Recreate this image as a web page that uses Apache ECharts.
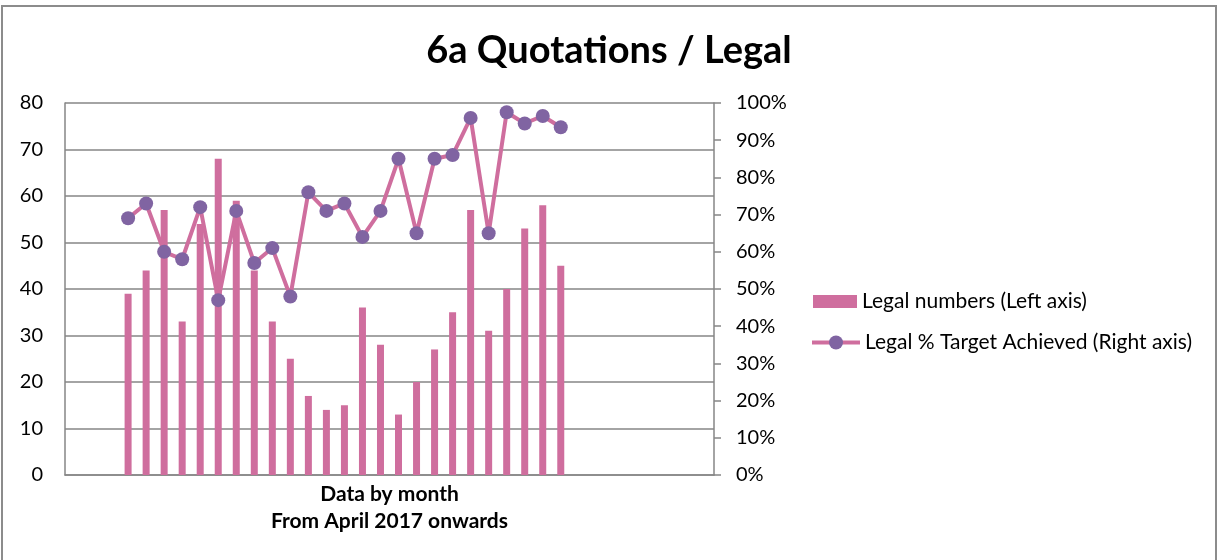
<!DOCTYPE html>
<html>
<head>
<meta charset="utf-8">
<script src="https://cdn.jsdelivr.net/npm/echarts@6/dist/echarts.min.js"></script>
<style>
  html, body { margin: 0; padding: 0; background: #fff; }
  #chart { width: 1218px; height: 560px; }
</style>
</head>
<body>
<div id="chart"></div>
<script>
// months shown (April 2017 onwards); chart has empty slots around them
const months = ['Apr 2017', 'May 2017', 'Jun 2017', 'Jul 2017', 'Aug 2017', 'Sep 2017', 'Oct 2017',
  'Nov 2017', 'Dec 2017', 'Jan 2018', 'Feb 2018', 'Mar 2018', 'Apr 2018', 'May 2018', 'Jun 2018',
  'Jul 2018', 'Aug 2018', 'Sep 2018', 'Oct 2018', 'Nov 2018', 'Dec 2018', 'Jan 2019', 'Feb 2019',
  'Mar 2019', 'Apr 2019'];
const legalNumbers = [39, 44, 57, 33, 54, 68, 59, 44, 33, 25, 17, 14, 15, 36, 28, 13, 20, 27, 35, 57, 31, 40, 53, 58, 45];
const legalPct = [69, 73, 60, 58, 72, 47, 71, 57, 61, 48, 76, 71, 73, 64, 71, 85, 65, 85, 86, 96, 65, 97.5, 94.5, 96.5, 93.5];
const leftTicks = [0, 80, 10];   // min, max, step
const rightTicks = [0, 100, 10];
const blanksBefore = 3;
const blanksAfter = 8;

const pad = (arr, fill) => [
  ...Array(blanksBefore).fill(fill), ...arr, ...Array(blanksAfter).fill(fill)
];
const categories = pad(months, '');

const chart = echarts.init(document.getElementById('chart'), null, { renderer: 'canvas' });
const font = 'Lato, "Open Sans", sans-serif';
const gray = '#868686';
const pink = '#CF6E9E';
const purple = '#8064A2';
const barName = 'Legal numbers (Left axis)';
const lineName = 'Legal % Target Achieved (Right axis)';
const legendText = { fontFamily: font, fontSize: 21, color: '#000' };

const option = {
  animation: false,
  textStyle: { fontFamily: font, color: '#000' },
  title: {
    text: '6a Quotations / Legal',
    left: 'center',
    top: 27,
    textStyle: { fontFamily: font, fontSize: 38, fontWeight: 'bold', color: '#000' }
  },
  graphic: [{
    type: 'rect',
    shape: { x: 2, y: 6, width: 1214, height: 600 },
    style: { fill: 'none', stroke: '#8c8c8c', lineWidth: 2 },
    silent: true
  }],
  legend: [
    {
      left: 813,
      top: 291,
      padding: 0,
      itemWidth: 44,
      itemHeight: 13,
      itemGap: 5,
      textStyle: legendText,
      data: [{ name: barName, icon: 'rect' }]
    },
    {
      left: 810,
      top: 332,
      padding: 0,
      itemWidth: 48,
      itemHeight: 17.5,
      itemGap: 5,
      textStyle: legendText,
      lineStyle: { width: 4, color: pink },
      data: [{ name: lineName }]
    }
  ],
  grid: { left: 65, right: 504, top: 103, bottom: 85 },
  xAxis: {
    type: 'category',
    data: categories,
    name: 'Data by month\nFrom April 2017 onwards',
    nameLocation: 'middle',
    nameGap: 6,
    nameTextStyle: { fontFamily: font, fontSize: 21, fontWeight: 'bold', color: '#000', lineHeight: 27, verticalAlign: 'top' },
    axisLine: { lineStyle: { color: gray, width: 1.5 } },
    axisTick: { show: false },
    axisLabel: { show: false },
    splitLine: { show: false }
  },
  yAxis: [
    {
      type: 'value',
      min: leftTicks[0],
      max: leftTicks[1],
      interval: leftTicks[2],
      axisLine: { show: true, lineStyle: { color: gray, width: 1.5 } },
      axisTick: { show: false },
      axisLabel: { fontFamily: font, fontSize: 20, color: '#000', margin: 22 },
      splitLine: { lineStyle: { color: gray, width: 1.5 } }
    },
    {
      type: 'value',
      position: 'right',
      min: rightTicks[0],
      max: rightTicks[1],
      interval: rightTicks[2],
      axisLine: { show: true, lineStyle: { color: gray, width: 1.5 } },
      axisTick: { show: true, inside: false, length: 7, lineStyle: { color: gray, width: 1.5 } },
      axisLabel: { fontFamily: font, fontSize: 20, color: '#000', margin: 22, formatter: '{value}%' },
      splitLine: { show: false }
    }
  ],
  series: [
    {
      name: barName,
      type: 'bar',
      yAxisIndex: 0,
      barWidth: 7,
      itemStyle: { color: pink },
      data: pad(legalNumbers, null)
    },
    {
      name: lineName,
      type: 'line',
      yAxisIndex: 1,
      symbol: 'circle',
      symbolSize: 14,
      showAllSymbol: true,
      lineStyle: { color: pink, width: 4 },
      itemStyle: { color: purple },
      z: 3,
      data: pad(legalPct, null)
    }
  ]
};

chart.setOption(option);
</script>
</body>
</html>
